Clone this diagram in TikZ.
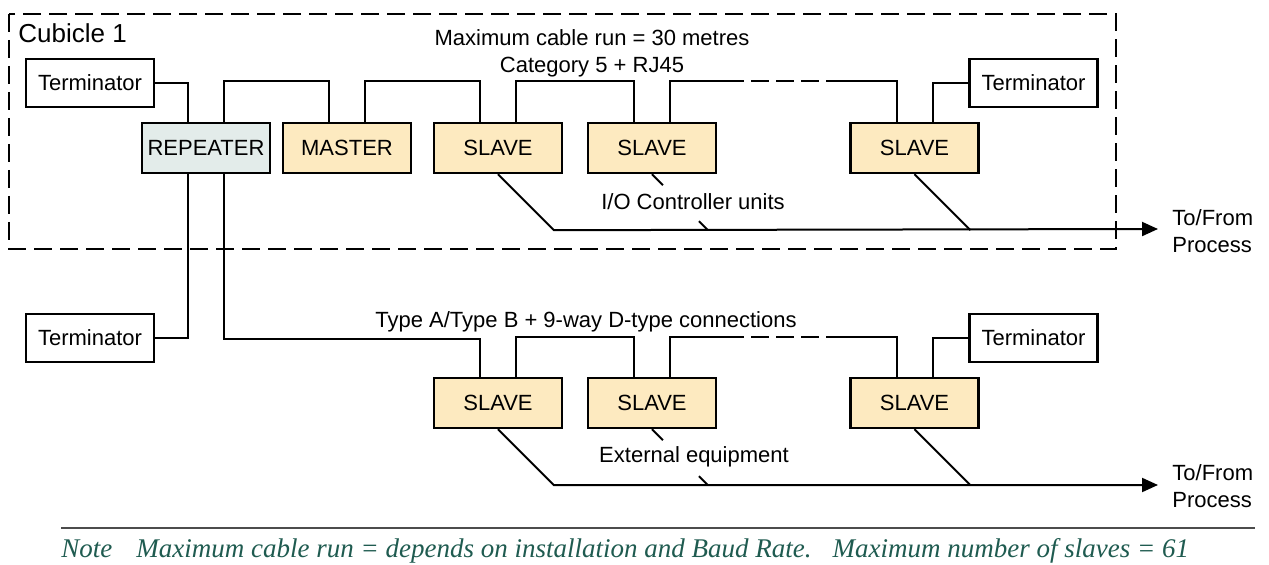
\documentclass[tikz,border=0pt]{standalone}
\usepackage{fontspec}
\setmainfont{Liberation Sans}
\newfontfamily\notafont{Liberation Serif}
\usetikzlibrary{arrows.meta,calc}

\definecolor{esclavofondo}{HTML}{FDEAC0}
\definecolor{repfondo}{HTML}{E3ECEA}
\definecolor{notaverde}{HTML}{1F5B50}

\tikzset{
  unidad/.style={draw, line width=1.2pt, minimum width=64pt, minimum height=25pt,
    inner sep=0pt, font=\fontsize{11}{13}\selectfont},
  esclavo/.style={unidad, fill=esclavofondo},
  term/.style={unidad, minimum height=24pt},
  cable/.style={line width=1pt},
  bus/.style={cable, dash pattern=on 9pt off 3.5pt},
  salida/.style={cable, -{Triangle[length=8pt,width=7pt]}},
  rotulo/.style={font=\fontsize{11}{13.5}\selectfont, inner sep=0pt},
  marco/.style={line width=1.2pt, dash pattern=on 9pt off 4pt},
}

\begin{document}
\begin{tikzpicture}[x=0.5pt,y=-0.5pt]
\useasboundingbox (0,0) rectangle (1269,565);

% Dibuja el cubiculo
\draw[marco] (9,14) rectangle (1116,249);
\node[rotulo, font=\fontsize{13}{15}\selectfont, anchor=base west] (cub) at (18,43) {Cubicle 1};

% Dibuja las unidades del cubiculo
\node[term] (termA) at (90,83) {Terminator};
\node[unidad, fill=repfondo] (rep) at (206,148) {REPEATER};
\node[esclavo] (mas) at (347,148) {MASTER};
\node[esclavo] (s1) at (498,148) {SLAVE};
\node[esclavo] (s2) at (652,148) {SLAVE};
\node[esclavo] (s3) at (914.5,148) {SLAVE};
\node[term] (termB) at (1033.5,83) {Terminator};

% Dibuja las unidades externas
\node[term] (termC) at (90,338) {Terminator};
\node[esclavo] (t1) at (498,403) {SLAVE};
\node[esclavo] (t2) at (652,403) {SLAVE};
\node[esclavo] (t3) at (914.5,403) {SLAVE};
\node[term] (termD) at (1033.5,338) {Terminator};

% Etiqueta los cables
\node[rotulo, align=center] (cat5) at (592,53) {Maximum cable run = 30 metres\\Category 5 + RJ45};
\node[rotulo] (io) at (693,202) {I/O Controller units};
\node[rotulo] (tipo) at (586,322) {Type A/Type B + 9-way D-type connections};
\node[rotulo] (ext) at (694,457) {External equipment};
\node[rotulo, align=left, anchor=west] (proc1) at (1172,231) {To/From\\Process};
\node[rotulo, align=left, anchor=west] (proc2) at (1172,486) {To/From\\Process};

% Bus del cubiculo
\draw[cable] (termA.east) -| ([xshift=-9pt]rep.north);
\draw[cable] ([xshift=9pt]rep.north) -- ++(0,-41) -| ([xshift=-9pt]mas.north);
\draw[cable] ([xshift=9pt]mas.north) -- ++(0,-41) -| ([xshift=-9pt]s1.north);
\draw[cable] ([xshift=9pt]s1.north) -- ++(0,-41) -| ([xshift=-9pt]s2.north);
\draw[cable] ([xshift=9pt]s2.north) -- ++(0,-41) -- ++(56,0) coordinate (ba);
\draw[bus] (ba) -- ++(117,0) coordinate (bb);
\draw[cable] (bb) -| ([xshift=-9pt]s3.north);
\draw[cable] ([xshift=9pt]s3.north) |- (termB.west);

% Bus externo
\draw[cable] ([xshift=-9pt]rep.south) |- (termC.east);
\draw[cable] ([xshift=9pt]rep.south) -- ++(0,165) -| ([xshift=-9pt]t1.north);
\draw[cable] ([xshift=9pt]t1.north) -- ++(0,-40) -| ([xshift=-9pt]t2.north);
\draw[cable] ([xshift=9pt]t2.north) -- ++(0,-40) -- ++(56,0) coordinate (bc);
\draw[bus] (bc) -- ++(117,0) coordinate (bd);
\draw[cable] (bd) -| ([xshift=-9pt]t3.north);
\draw[cable] ([xshift=9pt]t3.north) |- (termD.west);

% Salidas al proceso
\coordinate (fin1) at (1158,229);
\coordinate (fin2) at (1158,485);
\draw[salida] (s1.south) -- ++(56,56) -- (fin1);
\draw[cable] (s2.south) -- ++(11,11);
\draw[cable] ($(s2.south)+(47,47)$) -- ++(9,9);
\draw[cable] (s3.south) -- ++(56,56);
\draw[salida] (t1.south) -- ++(56,56) -- (fin2);
\draw[cable] (t2.south) -- ++(11,11);
\draw[cable] ($(t2.south)+(47,47)$) -- ++(9,9);
\draw[cable] (t3.south) -- ++(56,56);

% Nota
\draw[black!70, line width=0.6pt] (61,528) -- (1255,528);
\node[anchor=base west, inner sep=0pt, text=notaverde, font=\notafont\itshape\fontsize{13.5}{15}\selectfont] (nota) at (61,558)
  {Note\hspace{12pt}Maximum cable run = depends on installation and Baud Rate.\hspace{6pt} Maximum number of slaves = 61};

\end{tikzpicture}
\end{document}
